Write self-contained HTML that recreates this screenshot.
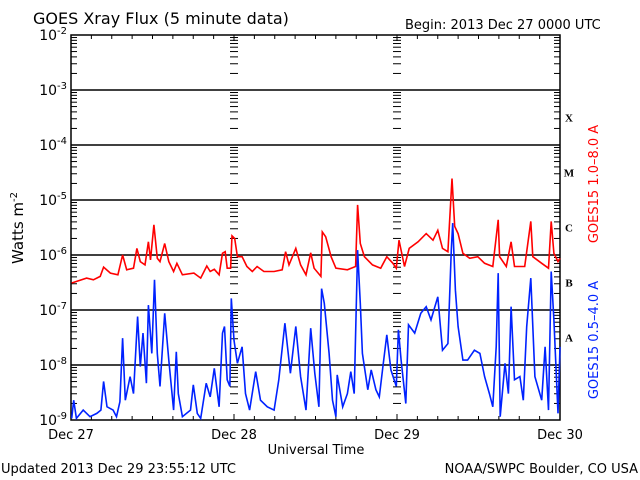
<!DOCTYPE html>
<html><head><meta charset="utf-8"><style>
body{margin:0;background:#fff}
svg{display:block;font-family:"DejaVu Sans","Liberation Sans",sans-serif}
</style></head><body>
<svg id="chart" width="640" height="480" viewBox="0 0 640 480" xmlns="http://www.w3.org/2000/svg">
<text x="33" y="24" font-size="16">GOES Xray Flux (5 minute data)</text>
<text x="405" y="29" font-size="13">Begin:  2013 Dec 27 0000 UTC</text>
<text transform="translate(23,228) rotate(-90)" text-anchor="middle" font-size="15">Watts m<tspan dy="-6" font-size="10">-2</tspan></text>
<text x="316" y="454" text-anchor="middle" font-size="13">Universal Time</text>
<text x="1" y="473" font-size="13">Updated 2013 Dec 29 23:55:12 UTC</text>
<text x="638" y="473" text-anchor="end" font-size="13">NOAA/SWPC Boulder, CO USA</text>
<text transform="translate(598,184) rotate(-90)" text-anchor="middle" font-size="13" fill="#ff0000">GOES15 1.0–8.0 A</text>
<text transform="translate(598,340) rotate(-90)" text-anchor="middle" font-size="13" fill="#0022ff">GOES15 0.5–4.0 A</text>
<g id="axes"></g>
<g id="series"></g>
</svg>
<script>
const decadeExps=[-2,-3,-4,-5,-6,-7,-8,-9];
const dayLabels=["Dec 27","Dec 28","Dec 29","Dec 30"];
const classLabels=["X","M","C","B","A"];
const classExps=[-3.5,-4.5,-5.5,-6.5,-7.5];
const longTimes=[0.1,2.3,3.3,4.3,4.8,5.8,6.9,7.6,8.2,9.2,9.7,10.2,10.9,11.4,11.7,12.2,12.7,13.1,13.8,14.4,15.1,15.6,16.4,18.1,19.1,20.0,20.5,21.1,21.8,22.3,22.7,23.0,23.5,23.7,24.1,24.5,25.2,25.9,26.7,27.4,28.4,29.9,31.1,31.6,32.1,33.1,33.8,34.6,35.3,35.8,36.8,37.0,37.5,38.3,39.0,40.7,41.9,42.2,42.6,43.2,44.4,45.6,46.5,47.4,47.9,48.3,49.1,49.8,51.1,52.3,53.3,54.0,54.7,55.5,56.1,56.5,57.0,57.7,58.7,59.9,60.9,62.1,62.9,63.1,64.1,64.8,65.3,66.8,67.7,68.0,69.3,70.3,70.7,71.1,71.7,72.0];
const longLog=[-6.51,-6.42,-6.45,-6.39,-6.22,-6.33,-6.36,-6.0,-6.27,-6.24,-5.88,-6.12,-6.18,-5.76,-6.09,-5.45,-6.06,-6.12,-5.79,-6.12,-6.30,-6.15,-6.36,-6.33,-6.42,-6.20,-6.30,-6.26,-6.36,-5.97,-5.94,-6.24,-6.24,-5.65,-5.70,-6.03,-6.03,-6.21,-6.30,-6.21,-6.30,-6.30,-6.27,-5.94,-6.18,-5.88,-6.18,-6.36,-5.96,-6.24,-6.39,-5.58,-5.67,-6.03,-6.24,-6.27,-6.21,-5.09,-5.79,-6.03,-6.18,-6.24,-6.03,-6.15,-6.24,-5.73,-6.21,-5.88,-5.76,-5.61,-5.73,-5.55,-5.88,-5.94,-4.61,-5.48,-5.61,-5.97,-6.06,-6.03,-6.15,-6.21,-5.36,-6.03,-6.21,-5.76,-6.21,-6.21,-5.39,-6.03,-6.15,-6.24,-5.39,-5.97,-6.12,-6.06];
const shortTimes=[0.1,0.4,0.8,1.8,2.8,3.8,4.4,4.8,5.3,6.2,6.7,7.2,7.6,8.0,8.7,9.2,9.8,10.2,10.6,11.1,11.4,11.9,12.3,12.7,13.1,13.8,14.4,15.1,15.5,15.8,16.4,17.6,18.0,18.6,19.1,19.9,20.5,21.1,21.8,22.3,22.6,23.0,23.4,23.6,24.0,24.5,25.2,25.7,26.3,27.2,27.9,28.9,29.9,30.6,31.5,32.3,33.1,33.8,34.6,35.3,35.9,36.5,36.9,37.3,38.0,38.5,39.0,39.2,40.0,40.7,41.2,41.7,42.2,42.6,42.9,43.7,44.2,44.9,45.4,45.9,46.5,47.1,47.9,48.2,48.6,49.3,49.7,50.6,51.5,52.3,53.0,54.0,54.7,55.5,56.0,56.2,56.6,57.0,57.7,58.4,59.4,60.2,60.9,61.6,62.1,62.6,62.9,63.2,63.9,64.4,64.8,65.3,66.1,66.6,67.1,67.7,68.3,69.3,69.8,70.3,70.7,71.1,71.7,72.0];
const shortLog=[-8.97,-8.64,-8.97,-8.82,-8.94,-8.88,-8.82,-8.30,-8.76,-8.82,-8.94,-8.67,-7.51,-8.64,-8.21,-8.52,-7.12,-8.03,-7.42,-8.33,-6.91,-7.79,-6.45,-7.79,-8.39,-7.06,-7.91,-8.82,-7.76,-8.52,-8.94,-8.82,-8.36,-8.88,-8.97,-8.33,-8.58,-8.06,-8.76,-7.42,-7.30,-8.27,-8.39,-6.79,-7.55,-7.97,-7.67,-8.52,-8.82,-8.12,-8.64,-8.76,-8.82,-8.27,-7.24,-8.15,-7.30,-8.21,-8.82,-7.33,-8.15,-8.76,-6.61,-6.88,-7.79,-8.64,-8.94,-8.18,-8.76,-8.52,-8.12,-8.52,-5.91,-6.88,-7.79,-8.45,-8.09,-8.45,-8.58,-8.06,-7.45,-8.09,-8.39,-7.36,-7.91,-8.70,-7.27,-7.42,-7.06,-6.94,-7.18,-6.76,-7.73,-7.61,-5.91,-5.42,-6.64,-7.30,-7.91,-7.91,-7.73,-7.79,-8.21,-8.52,-8.76,-7.67,-6.33,-8.94,-7.97,-8.52,-6.94,-8.27,-8.21,-8.64,-7.30,-6.42,-8.21,-8.64,-7.67,-8.82,-6.30,-7.18,-8.88,-7.67];

const NS="http://www.w3.org/2000/svg";
const L=71,R=560,T=35,B=420;
const xS=h=>L+(R-L)*h/72;
const yS=e=>T+(-2-e)*(B-T)/7;
function mk(tag,attrs,parent){const el=document.createElementNS(NS,tag);for(const k in attrs)el.setAttribute(k,attrs[k]);parent.appendChild(el);return el;}
const axes=document.getElementById('axes');
const series=document.getElementById('series');
// grid lines
decadeExps.forEach((e,i)=>{
  if(i>0&&i<decadeExps.length-1){const g=mk('line',{x1:L,x2:R,y1:yS(e),y2:yS(e),stroke:'#000','stroke-width':1.5},axes);
  
  }
  const t=mk('text',{x:L-4,y:yS(e)+5,'text-anchor':'end','font-size':14},axes);
  
  
  t.textContent='10';
  const s=mk('tspan',{dy:-6,'font-size':10},t);s.textContent=String(e);
});
// minor ticks
const dayX=[xS(24),xS(48)];
decadeExps.slice(1).forEach(e=>{
  for(let m=2;m<=9;m++){
    const y=yS(e+Math.log10(m));
    mk('line',{x1:L,x2:L+6,y1:y,y2:y,stroke:'#000'},axes);
    mk('line',{x1:R-6,x2:R,y1:y,y2:y,stroke:'#000'},axes);
    dayX.forEach(x=>mk('line',{x1:x-4,x2:x+4,y1:y,y2:y,stroke:'#000'},axes));
  }
});
for(let h=3;h<72;h+=3){
  const x=xS(h),len=(h%24===0)?6:4;
  mk('line',{x1:x,x2:x,y1:T,y2:T+len,stroke:'#000'},axes);
  mk('line',{x1:x,x2:x,y1:B,y2:B-len,stroke:'#000'},axes);
}
dayLabels.forEach((d,i)=>{
  const t=mk('text',{x:xS(i*24),y:439,'text-anchor':'middle','font-size':13},axes);
  
  
  t.textContent=d;
});
classLabels.forEach((c,i)=>{
  const t=mk('text',{x:569,y:yS(classExps[i])+4,'text-anchor':'middle','font-size':11,'font-weight':'bold','font-family':'Liberation Serif, serif'},axes);
  
  
  t.textContent=c;
});
const frame=mk('rect',{x:L,y:T,width:R-L,height:B-T,fill:'none',stroke:'#000','stroke-width':1.5},axes);


function line(times,vals,color,name){
  const pts=times.map((h,i)=>xS(h).toFixed(1)+','+yS(Math.max(-9,vals[i])).toFixed(1)).join(' ');
  const p=mk('polyline',{points:pts,fill:'none',stroke:color,'stroke-width':1.6,'stroke-linejoin':'miter'},series);
  
  
}
line(longTimes,longLog,'#ff0000','series-long-1-8A');
line(shortTimes,shortLog,'#0022ff','series-short-0.5-4A');
</script>
</body></html>
